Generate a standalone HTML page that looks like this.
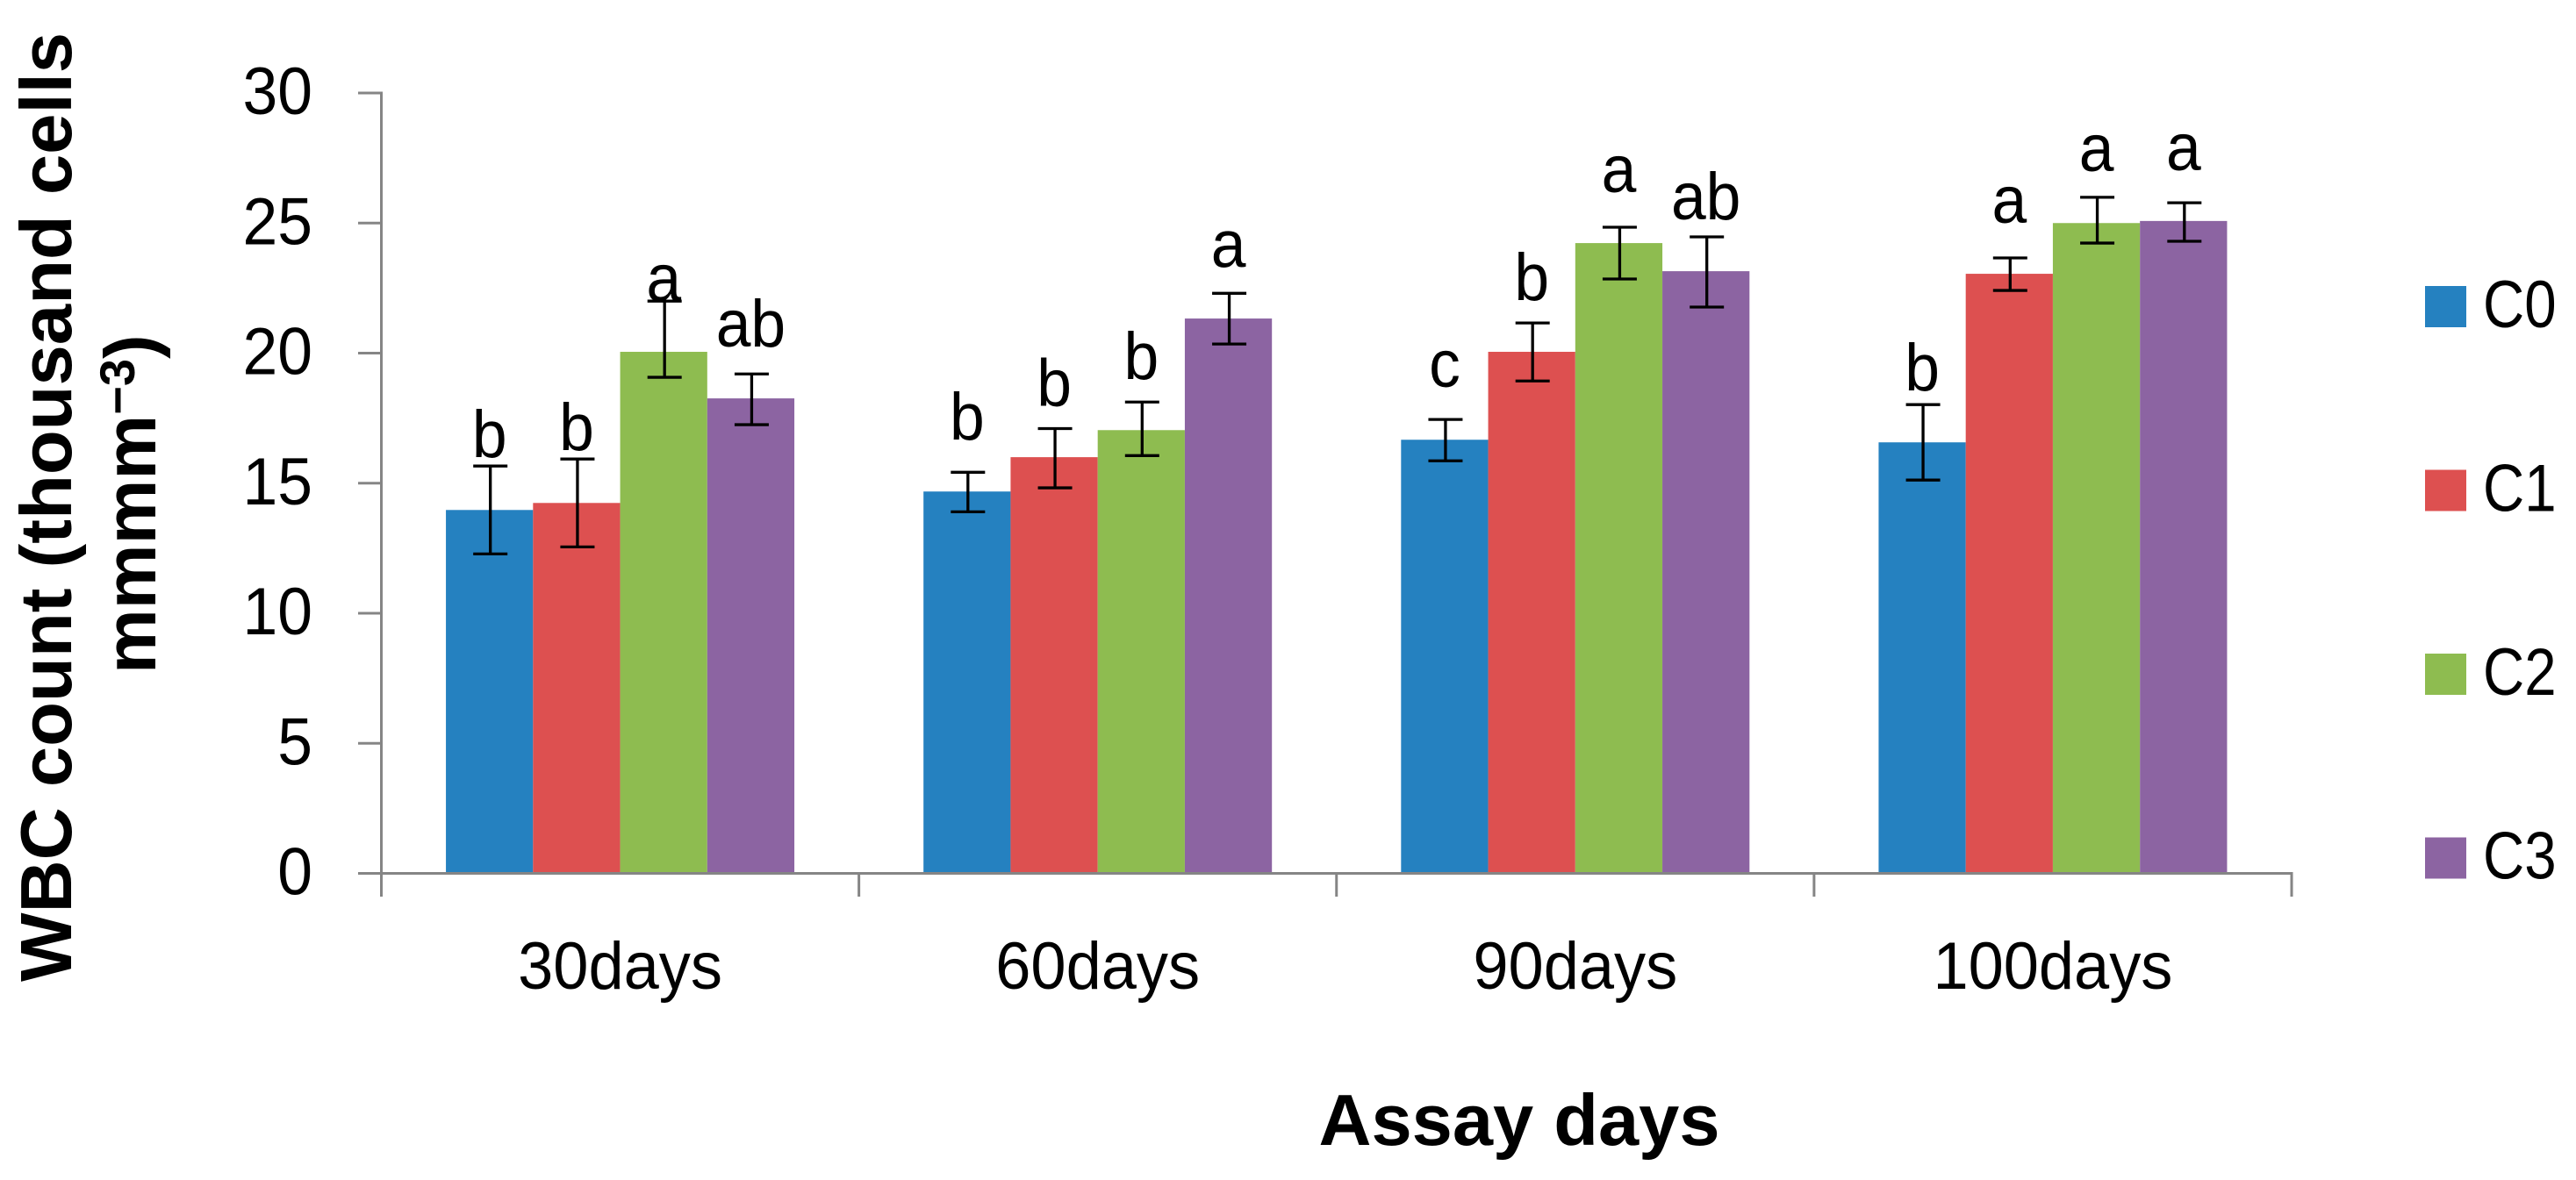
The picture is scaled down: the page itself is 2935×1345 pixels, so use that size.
<!DOCTYPE html>
<html lang="en">
<head>
<meta charset="utf-8">
<title>WBC count by assay days</title>
<style>
html,body{margin:0;padding:0;background:#fff;}
svg{display:block;}
text{fill:#000;font-family:"Liberation Sans",Arial,sans-serif;}
.title{font-weight:bold;font-size:83px;}
.lab{font-size:76px;}
</style>
</head>
<body>
<svg id="chart" xmlns="http://www.w3.org/2000/svg" width="2935" height="1345" viewBox="0 0 2935 1345">
  <rect x="0" y="0" width="2935" height="1345" fill="#ffffff"/>
  <g id="bars"></g>
  <g id="axes"></g>
  <g id="errors"></g>
  <g id="letters"></g>
  <g id="legend"></g>
  <text class="title" transform="translate(81,578) rotate(-90)" text-anchor="middle" textLength="1082" lengthAdjust="spacingAndGlyphs">WBC count (thousand cells</text>
  <text class="title" transform="translate(177,768) rotate(-90)" text-anchor="start">mmmm<tspan dy="-24" style="font-size:56px">−3</tspan><tspan dy="24">)</tspan></text>
  <text class="title" x="1731" y="1305" text-anchor="middle" textLength="457" lengthAdjust="spacingAndGlyphs">Assay days</text>
</svg>
<script>
const categories = ['30days', '60days', '90days', '100days'];
const seriesNames = ['C0', 'C1', 'C2', 'C3'];
const seriesColors = ['#2581C0', '#DD5050', '#8EBC50', '#8C64A2'];
const yTickLabels = [0, 5, 10, 15, 20, 25, 30];

const c0Values = [13.97, 14.68, 16.67, 16.57];
const c1Values = [14.24, 16.0, 20.05, 23.05];
const c2Values = [20.05, 17.04, 24.23, 25.0];
const c3Values = [18.26, 21.33, 23.15, 25.08];

const c0High = [15.66, 15.42, 17.45, 18.02];
const c1High = [15.93, 17.1, 21.16, 23.66];
const c2High = [22.0, 18.12, 24.84, 25.99];
const c3High = [19.2, 22.3, 24.47, 25.78];

const c0Low = [12.28, 13.9, 15.86, 15.12];
const c1Low = [12.55, 14.82, 18.93, 22.41];
const c2Low = [19.07, 16.06, 22.85, 24.23];
const c3Low = [17.25, 20.35, 21.77, 24.3];

const c0Letters = ['b', 'b', 'c', 'b'];
const c1Letters = ['b', 'b', 'b', 'a'];
const c2Letters = ['a', 'b', 'a', 'a'];
const c3Letters = ['ab', 'a', 'ab', 'a'];

/* clearance between the top of each error bar and its letter, in axis units */
const c0Clearance = [0.34, 1.25, 1.25, 0.54];
const c1Clearance = [0.34, 0.88, 0.88, 1.35];
const c2Clearance = [0.0, 0.88, 1.35, 1.01];
const c3Clearance = [1.05, 1.01, 0.67, 1.25];

const seriesValues = [c0Values, c1Values, c2Values, c3Values];
const seriesHigh = [c0High, c1High, c2High, c3High];
const seriesLow = [c0Low, c1Low, c2Low, c3Low];
const seriesLetters = [c0Letters, c1Letters, c2Letters, c3Letters];
const seriesClearance = [c0Clearance, c1Clearance, c2Clearance, c3Clearance];

const NS = 'http://www.w3.org/2000/svg';
const plot = { left: 434.5, right: 2611, top: 106, bottom: 995.5 };
const yMax = 30;
const barW = 99.25;

function yPos(v) {
  return plot.bottom - (v / yMax) * (plot.bottom - plot.top);
}
function catW() {
  return (plot.right - plot.left) / categories.length;
}
function xBand(c) {
  return plot.left + c * catW();
}
function xBar(c, s) {
  return xBand(c) + (catW() - barW * seriesNames.length) / 2 + s * barW;
}
function mk(parent, tag) {
  const e = document.createElementNS(NS, tag);
  parent.appendChild(e);
  return e;
}
function line(parent, x1, y1, x2, y2, color, w) {
  const e = mk(parent, 'line');
  e.setAttribute('x1', x1);
  e.setAttribute('y1', y1);
  e.setAttribute('x2', x2);
  e.setAttribute('y2', y2);
  e.setAttribute('stroke', color);
  e.setAttribute('stroke-width', w);
  return e;
}
function label(parent, str, x, y, anchor, squeeze) {
  const e = mk(parent, 'text');
  e.setAttribute('class', 'lab');
  e.setAttribute('x', x);
  e.setAttribute('y', y);
  e.setAttribute('text-anchor', anchor);
  e.textContent = str;
  const natural = e.getComputedTextLength();
  e.setAttribute('textLength', natural * squeeze);
  e.setAttribute('lengthAdjust', 'spacingAndGlyphs');
  return e;
}

const axes = document.getElementById('axes');
const barsG = document.getElementById('bars');
const errG = document.getElementById('errors');
const lettersG = document.getElementById('letters');
const legendG = document.getElementById('legend');
const axisColor = '#858585';

const yAxisLine = line(axes, plot.left, plot.top - 1.5, plot.left, plot.bottom, axisColor, 3);


const xAxisLine = line(axes, plot.left - 26.5, plot.bottom, plot.right + 1.5, plot.bottom, axisColor, 3);



yTickLabels.forEach(function (t) {
  const tick = line(axes, plot.left - 26.5, yPos(t), plot.left, yPos(t), axisColor, 3);
  
  
  const lab = label(axes, String(t), 356, yPos(t) + 24, 'end', 0.94);
  
  
});

for (let c = 0; c <= categories.length; c++) {
  const tick = line(axes, xBand(c), plot.bottom, xBand(c), plot.bottom + 26.5, axisColor, 3);
  
  
}
categories.forEach(function (cat, c) {
  const lab = label(axes, cat, xBand(c) + catW() / 2, 1127, 'middle', 0.95);
  
  
});

seriesNames.forEach(function (name, s) {
  categories.forEach(function (cat, c) {
    const v = seriesValues[s][c];
    const bar = mk(barsG, 'rect');
    bar.setAttribute('x', xBar(c, s));
    bar.setAttribute('y', yPos(v));
    bar.setAttribute('width', barW);
    bar.setAttribute('height', plot.bottom - 1.5 - yPos(v));
    bar.setAttribute('fill', seriesColors[s]);
    
    

    const cx = xBar(c, s) + barW / 2 + 1;
    const hi = yPos(seriesHigh[s][c]);
    const lo = yPos(seriesLow[s][c]);
    const stem = line(errG, cx, hi, cx, lo, '#000', 3.3);
    
    
    const capTop = line(errG, cx - 19.5, hi, cx + 19.5, hi, '#000', 3.3);
    
    
    const capBot = line(errG, cx - 19.5, lo, cx + 19.5, lo, '#000', 3.3);
    
    

    const ly = yPos(seriesHigh[s][c] + seriesClearance[s][c]);
    const letter = label(lettersG, seriesLetters[s][c], xBar(c, s) + barW / 2, ly, 'middle', 0.94);
    
    
  });
});

seriesNames.forEach(function (name, s) {
  const top = 326 + s * 209.5;
  const sw = mk(legendG, 'rect');
  sw.setAttribute('x', 2763);
  sw.setAttribute('y', top);
  sw.setAttribute('width', 47);
  sw.setAttribute('height', 47);
  sw.setAttribute('fill', seriesColors[s]);
  
  
  const lab = label(legendG, name, 2829, top + 47, 'start', 0.86);
  
  
});
</script>
</body>
</html>
